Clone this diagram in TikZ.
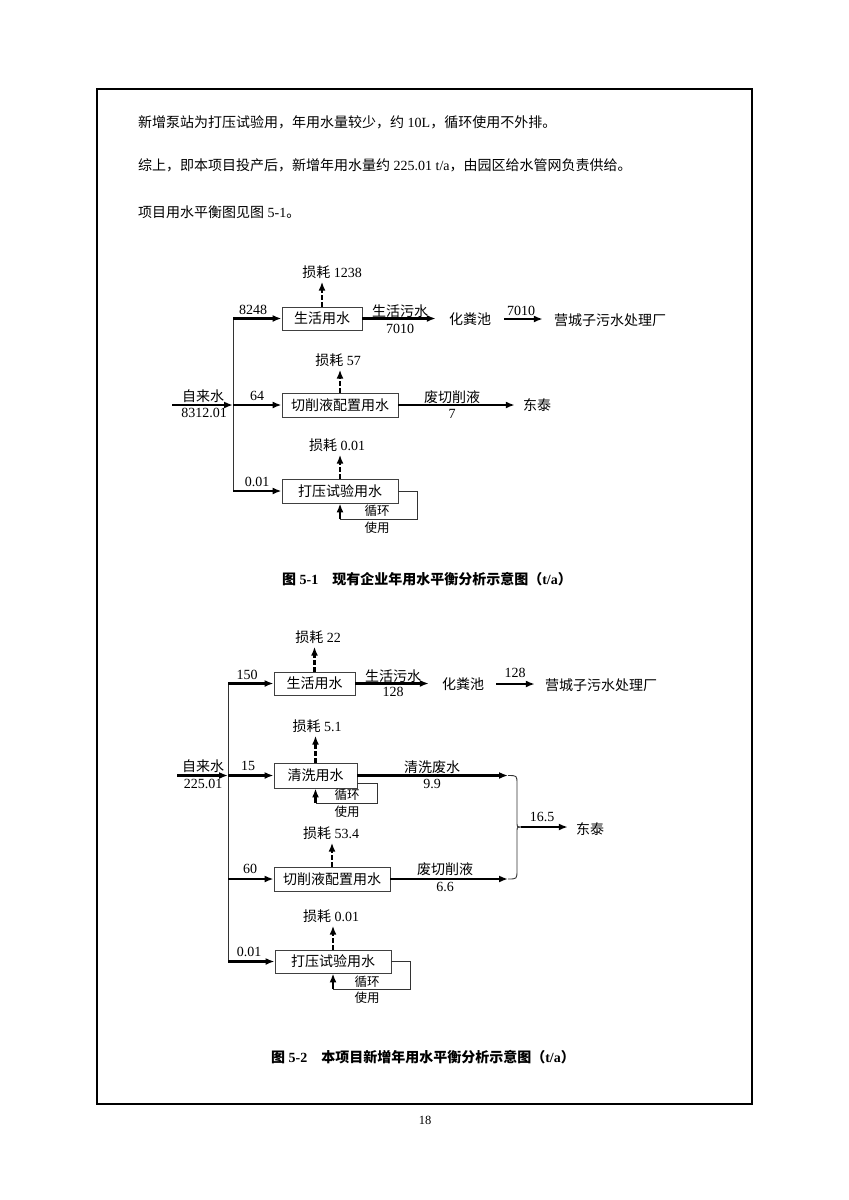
\documentclass[tikz,border=0pt]{standalone}
\usepackage{fontspec}
\setmainfont{Liberation Serif}
\newfontfamily\cjk{Noto Sans CJK SC}
\usetikzlibrary{arrows.meta}
\newcommand\zh[1]{{\cjk #1}}
\begin{document}
\begin{tikzpicture}[x=1pt,y=-1pt,
  every node/.style={font=\fontsize{14}{16}\selectfont, inner sep=0pt},
  box/.style={draw=black!75, line width=0.9pt, minimum height=24pt, inner sep=0pt},
  flow/.style={line width=2.1pt, -{Latex[length=9pt,width=7pt]}},
  thinln/.style={line width=0.9pt, draw=black!80},
  loss/.style={line width=2.1pt, dash pattern=on 4.5pt off 2.5pt, -{Latex[length=9pt,width=7pt]}},
  smalltxt/.style={font=\fontsize{12.5}{14}\selectfont},
  captxt/.style={font=\fontsize{14}{16}\selectfont\bfseries},
]
\fill[white] (0,0) rectangle (849,1200);
\useasboundingbox (0,0) rectangle (849,1200);
\draw[line width=2.5pt] (97,89) rectangle (752,1104);

% top text
\node[anchor=west] (p1) at (138,122) {\zh{新增泵站为打压试验用，年用水量较少，约} 10L\zh{，循环使用不外排。}};
\node[anchor=west] (p2) at (138,165) {\zh{综上，即本项目投产后，新增年用水量约} 225.01 t/a\zh{，由园区给水管网负责供给。}};
\node[anchor=west] (p3) at (138,212) {\zh{项目用水平衡图见图} 5-1\zh{。}};

% ================= Diagram 1 =================
\node[box, minimum width=80pt, minimum height=23pt] (b1) at (322,318.5) {\zh{生活用水}};
\node[box, minimum width=116pt] (b2) at (340,405) {\zh{切削液配置用水}};
\node[box, minimum width=116pt] (b3) at (340,491) {\zh{打压试验用水}};

\coordinate (ta1) at (233,318.5);
\coordinate (ta2) at (233,405);
\coordinate (ta3) at (233,491);
\coordinate (s1) at (172,405);
\draw[thinln] (ta1) -- (ta3);
\draw[flow] (s1) -- (ta2);
\draw[flow] (ta1) -- (b1.west);
\draw[flow] (ta2) -- (b2.west);
\draw[flow] (ta3) -- (b3.west);

\node (w1) at (203,396) {\zh{自来水}};
\node (w1n) at (204,413) {8312.01};
\node (i1) at (253,310) {8248};
\node (i2) at (257,396) {64};
\node (i3) at (257,482) {0.01};

\node (l1) at (332,272) {\zh{损耗} 1238};
\node (l2) at (338,360) {\zh{损耗} 57};
\node (l3) at (337,445) {\zh{损耗} 0.01};
\draw[loss, shorten >=3pt] (b1.north) -- (b1.north |- l1.south);
\draw[loss, shorten >=3pt] (b2.north) -- (b2.north |- l2.south);
\draw[loss, shorten >=3pt] (b3.north) -- (b3.north |- l3.south);

\node (h1) at (470,319) {\zh{化粪池}};
\node (y1) at (610,320) {\zh{营城子污水处理厂}};
\node (d1) at (537,405) {\zh{东泰}};
\draw[flow, shorten >=13pt] (b1.east) -- (b1.east -| h1.west);
\draw[flow, shorten <=13pt, shorten >=11pt] (h1.east) -- (h1.east -| y1.west);
\draw[flow, shorten >=8pt] (b2.east) -- (b2.east -| d1.west);
\node (o1) at (400,311) {\zh{生活污水}};
\node (o1n) at (400,329) {7010};
\node (o2) at (521,311) {7010};
\node (o3) at (452,397) {\zh{废切削液}};
\node (o3n) at (452,414) {7};

\coordinate (r1) at (417,519);
\draw[thinln] (b3.east) -| (r1) -- (b3.south |- r1);
\draw[flow] (b3.south |- r1) -- (b3.south);
\node[smalltxt] (x1) at (377,511) {\zh{循环}};
\node[smalltxt] (x2) at (377,528) {\zh{使用}};

\node[captxt] (cap1) at (427,579) {\zh{图} 5-1\hspace{1em}\zh{现有企业年用水平衡分析示意图（}t/a\zh{）}};

% ================= Diagram 2 =================
\node[box, minimum width=81pt, minimum height=23pt] (c1) at (314.5,683.5) {\zh{生活用水}};
\node[box, minimum width=83pt, minimum height=25pt] (c2) at (315.5,775.5) {\zh{清洗用水}};
\node[box, minimum width=116pt] (c3) at (332,879) {\zh{切削液配置用水}};
\node[box, minimum width=116pt, minimum height=23pt] (c4) at (333,961.5) {\zh{打压试验用水}};

\coordinate (tb1) at (228,683.5);
\coordinate (tb2) at (228,775.5);
\coordinate (tb3) at (228,879);
\coordinate (tb4) at (228,961.5);
\coordinate (s2) at (177,775.5);
\draw[thinln] (tb1) -- (tb4);
\draw[flow] (s2) -- (tb2);
\draw[flow] (tb1) -- (c1.west);
\draw[flow] (tb2) -- (c2.west);
\draw[flow] (tb3) -- (c3.west);
\draw[flow] (tb4) -- (c4.west);

\node (w2) at (203,766) {\zh{自来水}};
\node (w2n) at (203,784) {225.01};
\node (j1) at (247,675) {150};
\node (j2) at (248,766) {15};
\node (j3) at (250,869) {60};
\node (j4) at (249,952) {0.01};

\node (m1) at (318,637) {\zh{损耗} 22};
\node (m2) at (317,726) {\zh{损耗} 5.1};
\node (m3) at (331,833) {\zh{损耗} 53.4};
\node (m4) at (331,916) {\zh{损耗} 0.01};
\draw[loss, shorten >=3pt] (c1.north) -- (c1.north |- m1.south);
\draw[loss, shorten >=3pt] (c2.north) -- (c2.north |- m2.south);
\draw[loss, shorten >=3pt] (c3.north) -- (c3.north |- m3.south);
\draw[loss, shorten >=3pt] (c4.north) -- (c4.north |- m4.south);

\node (h2) at (463,684) {\zh{化粪池}};
\node (y2) at (601,685) {\zh{营城子污水处理厂}};
\draw[flow, shorten >=13pt] (c1.east) -- (c1.east -| h2.west);
\draw[flow, shorten <=12pt, shorten >=10pt] (h2.east) -- (h2.east -| y2.west);
\node (q1) at (393,676) {\zh{生活污水}};
\node (q1n) at (393,692) {128};
\node (q2) at (515,673) {128};

\coordinate (e1) at (508,775.5);
\coordinate (e2) at (508,879);
\coordinate (k) at (521,827);
\draw[flow] (c2.east) -- (e1);
\draw[flow] (c3.east) -- (e2);
\draw[thinln] (e1) .. controls (517,775.5) .. (517,784) -- (517,822) .. controls (517,827) .. (k);
\draw[thinln] (k) .. controls (517,827) .. (517,832) -- (517,870) .. controls (517,879) .. (e2);
\node (d2) at (590,829) {\zh{东泰}};
\draw[flow, shorten >=8pt] (k) -- (k -| d2.west);
\node (q3) at (432,767) {\zh{清洗废水}};
\node (q3n) at (432,784) {9.9};
\node (q4) at (445,869) {\zh{废切削液}};
\node (q4n) at (445,887) {6.6};
\node (q5) at (542,817) {16.5};

% loops
\coordinate (r2) at (377,803);
\draw[thinln] ([yshift=-7.5pt]c2.east) -| (r2) -- (c2.south |- r2);
\draw[flow] (c2.south |- r2) -- (c2.south);
\node[smalltxt] (x3) at (347,795) {\zh{循环}};
\node[smalltxt] (x4) at (347,812) {\zh{使用}};

\coordinate (r3) at (410,989);
\draw[thinln] (c4.east) -| (r3) -- (c4.south |- r3);
\draw[flow] (c4.south |- r3) -- (c4.south);
\node[smalltxt] (x5) at (367,982) {\zh{循环}};
\node[smalltxt] (x6) at (367,998) {\zh{使用}};

\node[captxt] (cap2) at (423,1057) {\zh{图} 5-2\hspace{1em}\zh{本项目新增年用水平衡分析示意图（}t/a\zh{）}};

\node[smalltxt] (pg) at (425,1120) {18};
\end{tikzpicture}
\end{document}
